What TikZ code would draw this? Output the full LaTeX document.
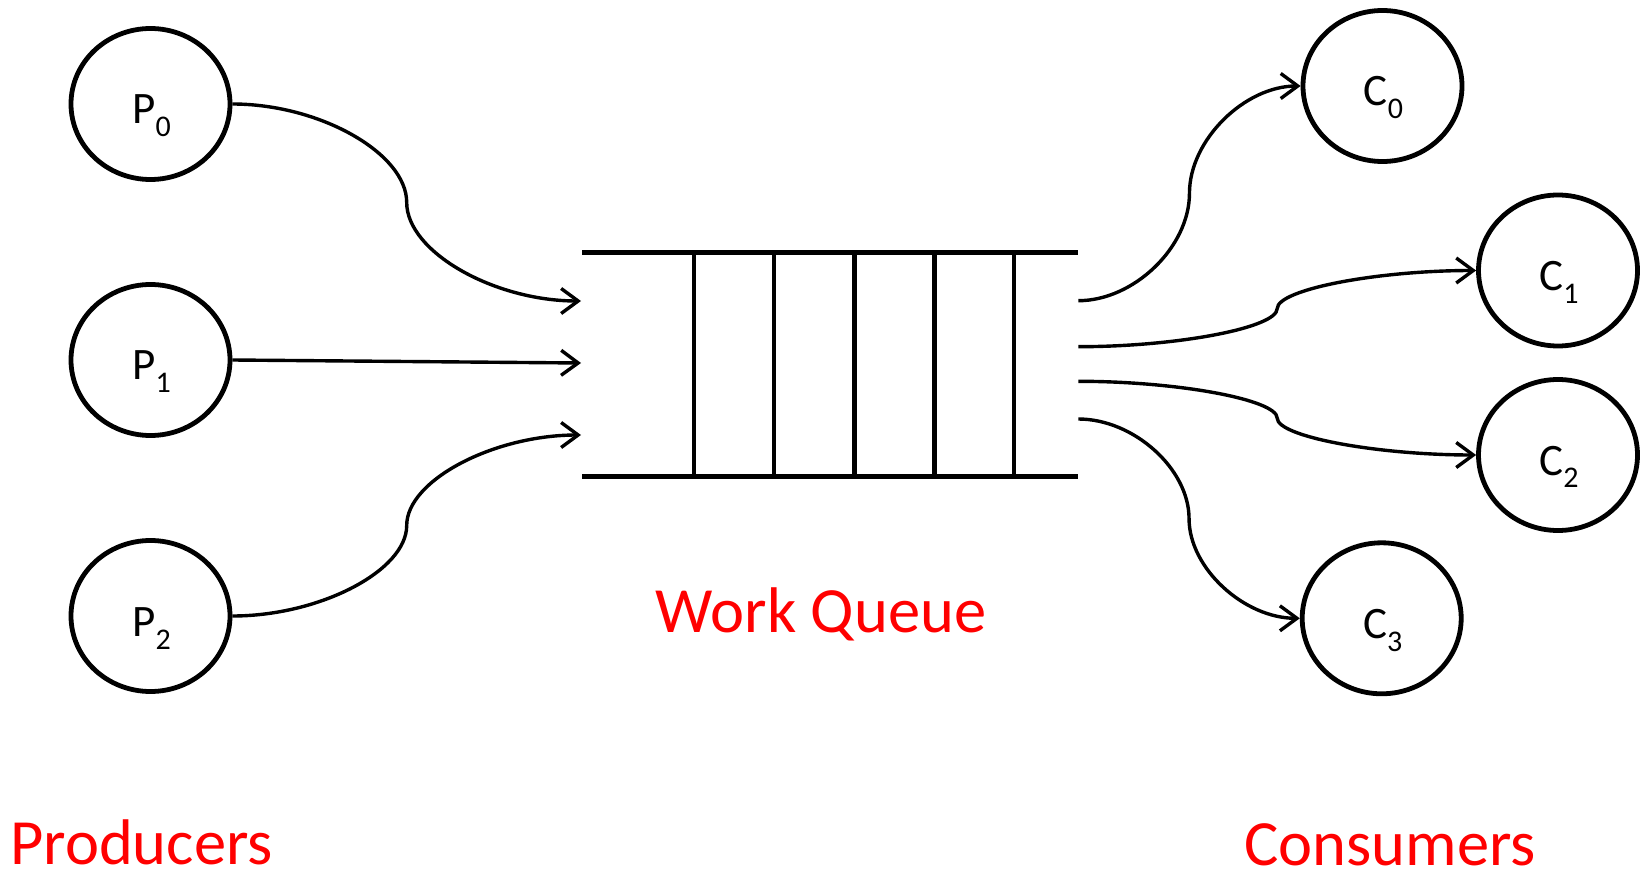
\documentclass[tikz,border=0pt]{standalone}
\usepackage{fontspec}
\setmainfont{Carlito}
\usetikzlibrary{arrows.meta,shapes.geometric,calc}

% lowered index digit for the node labels
\newcommand\idx[1]{\raisebox{-13pt}{\fontsize{30pt}{30pt}\selectfont #1}}

\begin{document}
\begin{tikzpicture}[x=1pt,y=-1pt,
  agent/.style={draw, ellipse, line width=4.8pt, minimum width=159pt,
    minimum height=151pt, inner sep=0pt},
  lbl/.style={anchor=base, inner sep=0pt, font=\fontsize{45pt}{45pt}\selectfont},
  title/.style={anchor=base, inner sep=0pt, text=red,
    font=\fontsize{64.5pt}{64.5pt}\selectfont},
  qline/.style={line width=4.5pt},
  conn/.style={line width=3.4pt, -{Straight Barb[length=17pt,width=25pt]}},
  % curved connector: horizontal at both ends, vertical at the midpoint
  sbend/.style={to path={let \p1=(\tikztostart), \p2=(\tikztotarget) in
    .. controls ({0.75*\x1+0.25*\x2},\y1) and ({0.5*\x1+0.5*\x2},{0.75*\y1+0.25*\y2})
    .. ({0.5*\x1+0.5*\x2},{0.5*\y1+0.5*\y2})
    .. controls ({0.5*\x1+0.5*\x2},{0.25*\y1+0.75*\y2}) and ({0.25*\x1+0.75*\x2},\y2)
    .. (\tikztotarget)}}
]
\useasboundingbox (0,0) rectangle (1641,874);

% producers
\node[agent] (P0) at (150.5,104) {};
\node[agent] (P1) at (150.5,360) {};
\node[agent] (P2) at (150.5,616) {};
\node[lbl] (P0l) at ([xshift=1pt,yshift=-20pt]P0.center) {P\idx{0}};
\node[lbl] (P1l) at ([xshift=1pt,yshift=-20pt]P1.center) {P\idx{1}};
\node[lbl] (P2l) at ([xshift=1pt,yshift=-20pt]P2.center) {P\idx{2}};

% consumers
\node[agent] (C0) at (1382.5,86) {};
\node[agent] (C1) at (1558,270.5) {};
\node[agent] (C2) at (1558,455) {};
\node[agent] (C3) at (1381.7,618.3) {};
\node[lbl] (C0l) at ([xshift=1pt,yshift=-20pt]C0.center) {C\idx{0}};
\node[lbl] (C1l) at ([xshift=1pt,yshift=-20pt]C1.center) {C\idx{1}};
\node[lbl] (C2l) at ([xshift=1pt,yshift=-20pt]C2.center) {C\idx{2}};
\node[lbl] (C3l) at ([xshift=1pt,yshift=-20pt]C3.center) {C\idx{3}};

% the queue
\coordinate (qtl) at (582.3,252.7);
\coordinate (qtr) at (1078.3,252.7);
\coordinate (qbl) at (582.3,476.7);
\coordinate (qbr) at (1078.3,476.7);
\draw[qline] (qtl) -- (qtr);
\draw[qline] (qbl) -- (qbr);
\foreach \x in {694,774,854.5,934.5,1014}
  \draw[qline] (\x,252.7) -- (\x,476.7);

% queue ports
\coordinate (in1) at (581,301);
\coordinate (in2) at (581,363);
\coordinate (in3) at (581,435);
\coordinate (out1) at (1078.3,300.7);
\coordinate (out2) at (1078.3,346.7);
\coordinate (out3) at (1078.3,381.3);
\coordinate (out4) at (1078.3,419);

% connectors
\draw[conn] (P0.east) to[sbend] (in1);
\draw[conn] (P1.east) -- (in2);
\draw[conn] (P2.east) to[sbend] (in3);
\draw[conn] (out1) to[sbend] (C0.west);
\draw[conn] (out2) to[sbend] (C1.west);
\draw[conn] (out3) to[sbend] (C2.west);
\draw[conn] (out4) to[sbend] (C3.west);

% captions
\node[title, anchor=base west] (prod) at (10,864) {Producers};
\node[title] (wq) at (821,632) {Work Queue};
\node[title] (cons) at (1390,865) {Consumers};
\end{tikzpicture}
\end{document}
